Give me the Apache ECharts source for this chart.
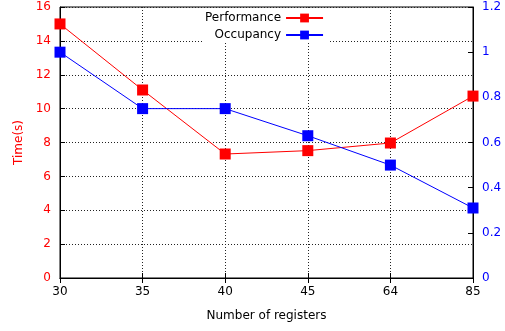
<!DOCTYPE html>
<html><head><meta charset="utf-8">
<script src="https://cdn.jsdelivr.net/npm/echarts@6/dist/echarts.min.js"></script>
<style>html,body{margin:0;padding:0;background:#fff}#c{width:505px;height:331px}</style>
</head><body><div id="c"></div>
<script>
const categories = ['30','35','40','45','64','85'];
const performance = [15.0, 11.1, 7.32, 7.52, 7.97, 10.74];
const occupancy = [1.0, 0.75, 0.75, 0.63, 0.5, 0.31];
const FONT = 'DejaVu Sans';
const chart = echarts.init(document.getElementById('c'), null, {renderer:'canvas'});
const dotted = {show:true, lineStyle:{color:'#222', type:[1,2], width:1}};
chart.setOption({
  animation:false,
  backgroundColor:'#fff',
  textStyle:{fontFamily:FONT},
  grid:{left:60, right:32, top:7, bottom:53, show:true, borderColor:'#000', borderWidth:1, backgroundColor:'transparent'},
  legend:{
    orient:'vertical', align:'right', left:203, top:10, itemGap:5, itemWidth:37, itemHeight:11,
    backgroundColor:'#fff', padding:[2,6,2,2],
    textStyle:{fontFamily:FONT, fontSize:12, color:'#000', width:78, align:'right'},
    data:['Performance','Occupancy']
  },
  xAxis:[{
    type:'category', data:categories, boundaryGap:false,
    name:'Number of registers', nameLocation:'middle', nameGap:32,
    nameTextStyle:{fontFamily:FONT, fontSize:12, color:'#000'},
    axisLine:{lineStyle:{color:'#000'}},
    axisTick:{inside:true, length:5, lineStyle:{color:'#000'}},
    axisLabel:{fontFamily:FONT, fontSize:12, color:'#000', margin:8},
    splitLine:dotted
  },{
    type:'category', data:categories, boundaryGap:false, position:'top',
    axisLine:{lineStyle:{color:'#000'}},
    axisTick:{inside:true, length:5, lineStyle:{color:'#000'}},
    axisLabel:{show:false}, splitLine:{show:false}
  }],
  yAxis:[{
    type:'value', min:0, max:16, interval:2,
    name:'Time(s)', nameLocation:'middle', nameGap:35,
    nameTextStyle:{fontFamily:FONT, fontSize:12, color:'#ff0000'},
    axisLine:{show:true, lineStyle:{color:'#000'}},
    axisTick:{show:true, inside:true, length:5, lineStyle:{color:'#000'}},
    axisLabel:{fontFamily:FONT, fontSize:12, color:'#ff0000', margin:9},
    splitLine:dotted
  },{
    type:'value', min:0, max:1.2, interval:0.2, position:'right',
    axisLine:{show:true, lineStyle:{color:'#000'}},
    axisTick:{show:true, inside:true, length:5, lineStyle:{color:'#000'}},
    axisLabel:{fontFamily:FONT, fontSize:12, color:'#0000ff', margin:9},
    splitLine:{show:false}
  }],
  series:[{
    name:'Performance', type:'line', data:performance, xAxisIndex:0, yAxisIndex:0,
    symbol:'rect', symbolSize:11, color:'#ff0000',
    lineStyle:{width:1, color:'#ff0000'}, itemStyle:{color:'#ff0000'}
  },{
    name:'Occupancy', type:'line', data:occupancy, xAxisIndex:0, yAxisIndex:1,
    symbol:'rect', symbolSize:11, color:'#0000ff',
    lineStyle:{width:1, color:'#0000ff'}, itemStyle:{color:'#0000ff'}
  }]
});
</script></body></html>
